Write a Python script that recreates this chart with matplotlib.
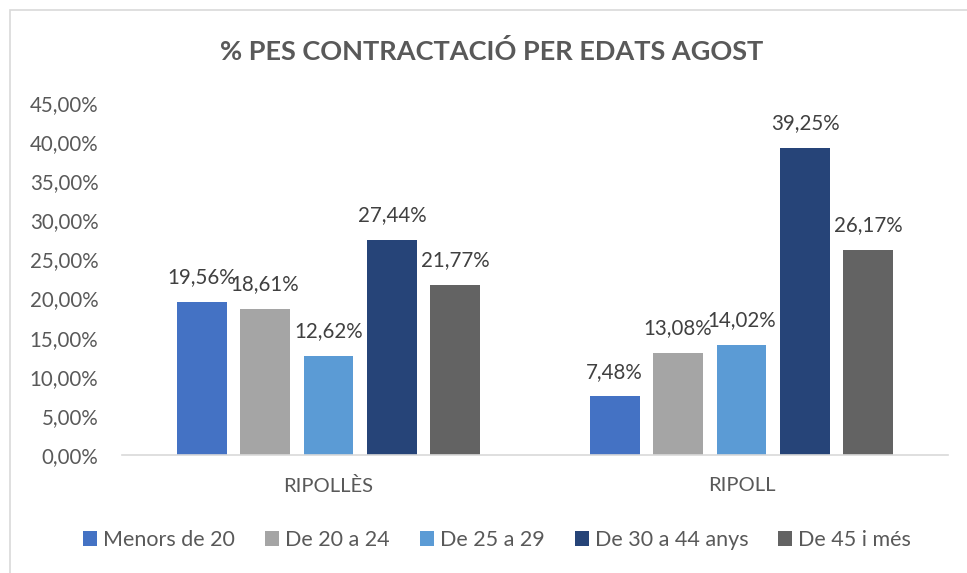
import numpy as np
import matplotlib.pyplot as plt
from matplotlib.patches import Rectangle

plt.rcParams['font.family'] = ['Lato', 'DejaVu Sans']

categories = ['RIPOLLÈS', 'RIPOLL']
series = ['Menors de 20', 'De 20 a 24', 'De 25 a 29', 'De 30 a 44 anys', 'De 45 i més']
values = [
    [19.56, 7.48],
    [18.61, 13.08],
    [12.62, 14.02],
    [27.44, 39.25],
    [21.77, 26.17],
]
colors = ['#4472C4', '#A5A5A5', '#5B9BD5', '#264478', '#636363']
yticks = np.arange(0, 50, 5)


def pct(v):
    return f'{v:.2f}'.replace('.', ',') + '%'


fig = plt.figure(figsize=(9.67, 5.73), dpi=100)
fig.patches.append(Rectangle((10 / 967, -0.1), 1.2, 1 - 10 / 573 + 0.1,
                             transform=fig.transFigure, fill=False,
                             edgecolor='#D9D9D9', linewidth=1.2))
ax = fig.add_axes([122 / 967, 1 - 455 / 573, 826 / 967, 352 / 573])

x = np.arange(len(categories))
width = 0.121
step = 0.1537
for i, (name, vals, col) in enumerate(zip(series, values, colors)):
    pos = x + (i - 2) * step
    ax.bar(pos, vals, width, color=col, label=name, zorder=2)
    for p, v in zip(pos, vals):
        ax.text(p, v + 1.9, pct(v), ha='center', va='bottom',
                fontsize=14.8, color='#404040')

ax.set_xlim(-0.5, 1.5)
ax.set_ylim(0, 45)
ax.set_yticks(yticks)
ax.set_yticklabels([pct(t) for t in yticks], fontsize=14.8, color='#595959')
ax.set_xticks(x)
ax.set_xticklabels(categories, fontsize=14.5, color='#595959')
ax.tick_params(axis='y', length=0, pad=17)
ax.tick_params(axis='x', length=0, pad=16)
for s in ['top', 'right', 'left']:
    ax.spines[s].set_visible(False)
ax.spines['bottom'].set_color('#D9D9D9')
ax.spines['bottom'].set_linewidth(1.2)

fig.text(492 / 967, 1 - 51 / 573, '% PES CONTRACTACIÓ PER EDATS AGOST',
         ha='center', va='center', fontsize=19.5, fontweight='bold', color='#595959')

fig.legend(loc='center', bbox_to_anchor=(497 / 967, 1 - 540 / 573), ncol=5,
           frameon=False, fontsize=15.5, handlelength=0.65, handleheight=0.65,
           handletextpad=0.28, columnspacing=1.4, labelcolor='#595959')

fig.savefig('out.png', dpi=100)
